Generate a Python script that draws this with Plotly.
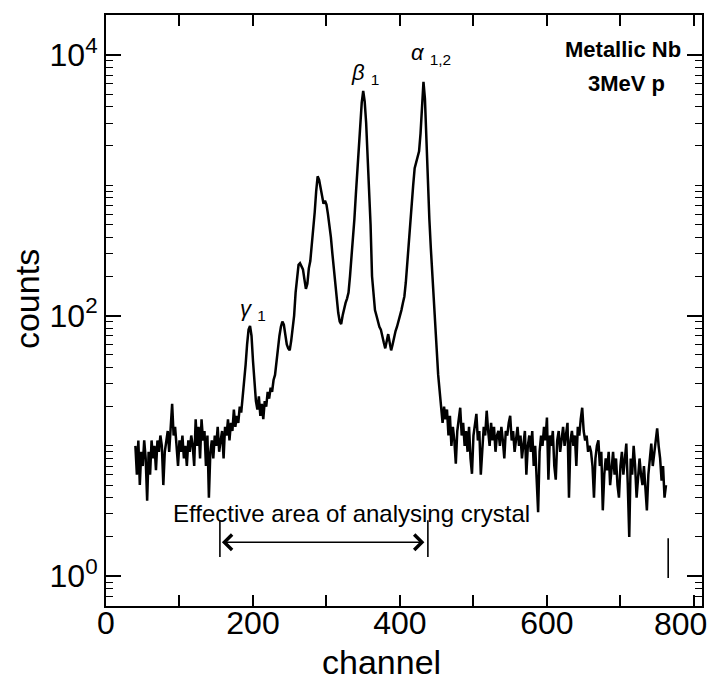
import math
import plotly.graph_objects as go

# ---------------- data ----------------
channel = list(range(40, 763, 2))
counts = [
    10, 6, 11, 5, 9, 7, 11, 8, 3.8, 9,
    6, 11, 8, 10, 6.5, 11, 9, 12, 10, 5,
    9, 11, 13, 9, 15, 21, 12, 14, 10, 7,
    11, 9, 12, 8, 10, 7, 11, 9, 12, 10,
    7, 16, 10, 14, 8, 16, 11, 13, 7, 12,
    4, 9, 11, 8, 12, 10, 14, 9, 11, 13,
    8, 14, 12, 16, 11, 15, 13, 19, 14, 17,
    15, 20, 18, 23, 30, 42, 60, 78, 83, 70,
    45, 28, 22, 19, 24, 17, 21, 16, 22, 20,
    26, 23, 28, 26, 32, 35, 45, 55, 70, 82,
    90, 85, 68, 60, 56, 54, 64, 80, 100, 150,
    200, 245, 252, 238, 226, 190, 160, 175, 230, 262,
    340, 420, 620, 900, 1170, 1100, 950, 780, 720, 760,
    710, 600, 500, 400, 300, 230, 170, 130, 105, 90,
    86, 100, 115, 125, 135, 150, 200, 270, 370, 550,
    850, 1300, 2000, 3000, 4300, 5300, 4400, 3000, 1800, 1000,
    500, 200, 140, 110, 100, 90, 82, 78, 68, 62,
    56, 65, 72, 62, 54, 60, 70, 76, 82, 90,
    96, 110, 125, 140, 180, 260, 370, 500, 700, 1000,
    1350, 1500, 1650, 1820, 2500, 4100, 6200, 4600, 2100, 1000,
    550, 330, 200, 120, 80, 55, 35, 25, 20, 15,
    20, 16, 19, 12, 17, 10, 14, 11, 7.3, 13,
    16, 19.6, 12, 15, 10, 13, 9, 14, 8, 6.1,
    12, 15, 17.6, 11, 13, 6, 10, 14, 12, 18.6,
    13, 10, 15, 11, 14, 9, 12, 13, 10, 14,
    11, 8, 13, 12, 15, 17, 11, 13, 9, 12,
    14, 10, 12, 8, 11, 13, 6, 10, 12, 9,
    13, 7, 10, 6, 3.1, 9, 12, 10, 14, 11,
    16.5, 5.5, 12, 10, 13, 7, 5.5, 11, 13, 9,
    12, 14, 10, 12, 15, 4, 11, 13, 10, 12,
    7, 14, 12, 16, 19.6, 13, 11, 12, 9, 10,
    9, 7, 4, 8, 10, 11, 7, 9, 3.2, 6,
    8, 6.5, 9, 5, 7, 9, 6, 8, 5, 4,
    7, 9, 6, 8, 10.4, 5, 2.0, 8, 6, 10,
    7, 4, 6, 8, 6, 5, 7, 5, 3.2, 6,
    8, 10.4, 7, 9, 11, 13.6, 10, 8, 5.4, 7,
    4, 5,
]
tail_channel = [765, 765]
tail_counts = [1.95, 0.97]

x_tickvals = [0, 200, 400, 600]
x_ticktext = ["0", "200", "400", "600"]
x_minorvals = [100, 300, 500, 700, 800]
y_tickvals = [1, 100, 10000]
y_ticktext = ["10<sup>0</sup>", "10<sup>2</sup>", "10<sup>4</sup>"]
y_minorvals = [m * 10 ** d for d in range(-1, 5) for m in range(1, 10)
               if 0.55 < m * 10 ** d < 2.1e4 and m * 10 ** d not in (1, 100, 10000)]

crystal_lo, crystal_hi = 155, 438          # channel extent of analysing crystal
arrow_level, bar_lo, bar_hi = 1.82, 1.40, 2.68

FONT = "Liberation Sans"
BODY = 8  # default page margin of the html body

fig = go.Figure()
fig.add_trace(go.Scatter(x=channel, y=counts, mode="lines",
                         line=dict(color="black", width=2.5), hoverinfo="skip"))
fig.add_trace(go.Scatter(x=tail_channel, y=tail_counts, mode="lines",
                         line=dict(color="black", width=1.6), hoverinfo="skip"))
# end bars of the analysing-crystal range
fig.add_trace(go.Scatter(x=[crystal_lo, crystal_lo, None, crystal_hi, crystal_hi],
                         y=[bar_lo, bar_hi, None, bar_lo, bar_hi], mode="lines",
                         line=dict(color="black", width=1.6), hoverinfo="skip"))

fig.update_layout(
    width=728 - BODY, height=681 - BODY,
    margin=dict(l=106 - BODY, r=26, t=13 - BODY, b=75, pad=0),
    paper_bgcolor="white", plot_bgcolor="white",
    showlegend=False,
    font=dict(family=FONT, color="black"),
    xaxis=dict(range=[0, 811], tickvals=x_tickvals, ticktext=x_ticktext,
               ticks="inside", ticklen=11, tickwidth=1.5, tickcolor="black",
               minor=dict(tickvals=x_minorvals, ticks="inside", ticklen=11,
                          tickwidth=1.5, tickcolor="black", showgrid=False),
               showline=True, linewidth=2, linecolor="black", mirror="ticks",
               showgrid=False, zeroline=False, ticklabelstandoff=-12,
               tickfont=dict(family=FONT, size=32, color="black")),
    yaxis=dict(type="log", range=[-0.229, 4.306],
               tickvals=y_tickvals, ticktext=y_ticktext,
               ticks="inside", ticklen=15, tickwidth=1.5, tickcolor="black",
               minor=dict(tickvals=y_minorvals, ticks="inside", ticklen=7,
                          tickwidth=1.3, tickcolor="black", showgrid=False),
               showline=True, linewidth=2, linecolor="black", mirror="ticks",
               showgrid=False, zeroline=False,
               tickfont=dict(family=FONT, size=32, color="black")),
)

def px_x(px):
    return (px - 106) / 596

def px_y(py):
    return (606 - py) / 593

ann = [
    dict(text="counts", x=px_x(27), y=px_y(298), textangle=-90, size=34),
    dict(text="channel", x=px_x(381), y=px_y(662), size=34),
    dict(text="800", x=px_x(680), y=px_y(624), size=32),
    dict(text="<i>γ</i> <sub>1</sub>", x=px_x(253), y=px_y(309), size=22),
    dict(text="<i>β</i> <sub>1</sub>", x=px_x(365), y=px_y(72), size=22),
    dict(text="<i>α</i> <sub>1,2</sub>", x=px_x(431), y=px_y(52), size=22),
    dict(text="<b>Metallic Nb</b>", x=px_x(623), y=px_y(48), size=22),
    dict(text="<b>3MeV p</b>", x=px_x(626), y=px_y(82), size=22),
]
for a in ann:
    fig.add_annotation(text=a["text"], x=a["x"], y=a["y"], xref="paper", yref="paper",
                       showarrow=False, textangle=a.get("textangle", 0),
                       font=dict(family=FONT, size=a["size"], color="black"),
                       xanchor="center", yanchor="middle")

fig.add_annotation(text="Effective area of analysing crystal", x=px_x(171), y=px_y(513),
                   xref="paper", yref="paper", showarrow=False, xanchor="left",
                   yanchor="middle", font=dict(family=FONT, size=24, color="black"))

# double-headed arrow
fig.add_annotation(x=crystal_lo, y=math.log10(arrow_level), ax=crystal_hi,
                   ay=math.log10(arrow_level), xref="x", yref="y", axref="x", ayref="y",
                   text="", showarrow=True, arrowhead=4, startarrowhead=4,
                   arrowside="end+start", arrowsize=2, arrowwidth=1.5,
                   arrowcolor="black", standoff=2, startstandoff=2)

fig.write_html("out.html")
